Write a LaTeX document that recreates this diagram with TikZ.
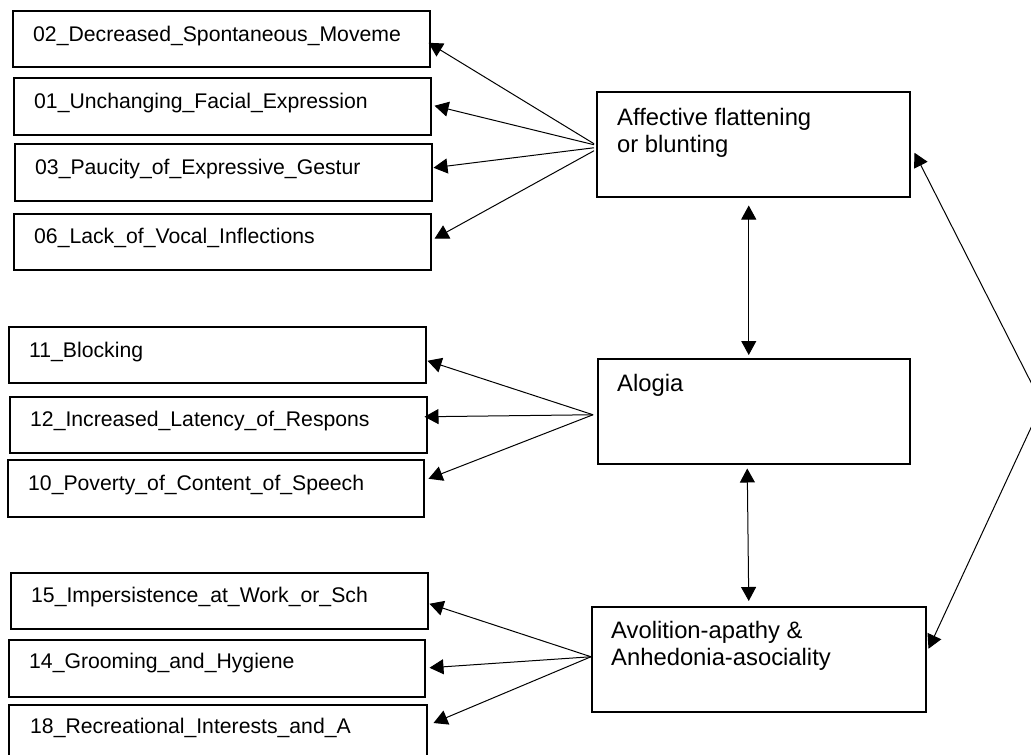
\documentclass[tikz,border=0pt]{standalone}
\usepackage{fontspec}
\setmainfont{Liberation Sans}
\usetikzlibrary{arrows.meta}
\tikzset{
  box/.style={draw=black, line width=1.5pt, inner sep=0pt, anchor=north west},
  lbl/.style={inner sep=0pt, anchor=base west, font=\fontsize{21.2}{25}\selectfont},
  biglbl/.style={inner sep=0pt, anchor=north west, align=left, font=\fontsize{23.8}{27.5}\selectfont},
  conn/.style={line width=1pt, -{Triangle[length=14pt,width=15pt]}},
  dconn/.style={line width=1pt, {Triangle[length=14pt,width=15pt]}-{Triangle[length=14pt,width=15pt]}},
}
\begin{document}
\begin{tikzpicture}[x=1pt,y=-1pt]
\useasboundingbox (0,0) rectangle (1031,755);
\fill[white] (0,0) rectangle (1031,755);
\clip (0,0) rectangle (1031,755);

% left boxes
\node[box, minimum width=417pt, minimum height=56pt] (b02) at (12,10) {};
\node[box, minimum width=417pt, minimum height=57pt] (b01) at (13,77) {};
\node[box, minimum width=417pt, minimum height=57pt] (b03) at (14,143) {};
\node[box, minimum width=417pt, minimum height=56pt] (b06) at (13,213) {};
\node[box, minimum width=417pt, minimum height=56pt] (b11) at (8,326) {};
\node[box, minimum width=417pt, minimum height=56pt] (b12) at (9,396) {};
\node[box, minimum width=416pt, minimum height=57pt] (b10) at (7,459) {};
\node[box, minimum width=417pt, minimum height=56pt] (b15) at (10,572) {};
\node[box, minimum width=416pt, minimum height=57pt] (b14) at (8,639) {};
\node[box, minimum width=418pt, minimum height=66pt] (b18) at (8,704) {};

% left labels
\node[lbl] (t02) at (33,41) {02\_Decreased\_Spontaneous\_Moveme};
\node[lbl] (t01) at (34,108) {01\_Unchanging\_Facial\_Expression};
\node[lbl] (t03) at (35,174) {03\_Paucity\_of\_Expressive\_Gestur};
\node[lbl] (t06) at (34,243) {06\_Lack\_of\_Vocal\_Inflections};
\node[lbl] (t11) at (29,357) {11\_Blocking};
\node[lbl] (t12) at (30,426) {12\_Increased\_Latency\_of\_Respons};
\node[lbl] (t10) at (28,490) {10\_Poverty\_of\_Content\_of\_Speech};
\node[lbl] (t15) at (31,602) {15\_Impersistence\_at\_Work\_or\_Sch};
\node[lbl] (t14) at (29,668) {14\_Grooming\_and\_Hygiene};
\node[lbl] (t18) at (30,733) {18\_Recreational\_Interests\_and\_A};

% right boxes
\node[box, minimum width=313pt, minimum height=105pt] (aff) at (596,91) {};
\node[box, minimum width=312pt, minimum height=105pt] (alo) at (597,358) {};
\node[box, minimum width=334pt, minimum height=105pt] (avo) at (591,606) {};

\node[biglbl] (taff) at (617,108) {Affective flattening\\or blunting};
\node[lbl, font=\fontsize{23.8}{27.5}\selectfont] (talo) at (617,391) {Alogia};
\node[biglbl] (tavo) at (611,621) {Avolition-apathy \&\\Anhedonia-asociality};

% affective -> items
\draw[conn] ([shift={(-2,-0.5)}]aff.west) -- ([shift={(-2,4)}]b02.east);
\draw[conn] ([shift={(-2,0.5)}]aff.west) -- ([shift={(3,-0.5)}]b01.east);
\draw[conn] ([shift={(-2,3.5)}]aff.west) -- ([shift={(1,-4.5)}]b03.east);
\draw[conn] ([shift={(-2,6.5)}]aff.west) -- ([shift={(3,-3)}]b06.east);

% alogia -> items
\draw[conn] ([shift={(-4,3.5)}]alo.west) -- ([shift={(1,6)}]b11.east);
\draw[conn] ([shift={(-4,3.5)}]alo.west) -- ([shift={(-3,-8)}]b12.east);
\draw[conn] ([shift={(-4,3.5)}]alo.west) -- ([shift={(4,-9.5)}]b10.east);

% avolition -> items
\draw[conn] ([shift={(0,-2.5)}]avo.west) -- ([shift={(1,3)}]b15.east);
\draw[conn] ([shift={(0,-2.5)}]avo.west) -- ([shift={(4,-0.5)}]b14.east);
\draw[conn] ([shift={(0,-2.5)}]avo.west) -- ([shift={(6,19)}]b18.north east);

% factor correlations
\draw[dconn] ([shift={(-4.5,8)}]aff.south) -- ([shift={(-5,-3)}]alo.north);
\draw[dconn] ([shift={(-6.5,4)}]alo.south) -- ([shift={(-10,-5)}]avo.north);
\coordinate (apex) at (1042,404);
\draw[dconn] ([shift={(4,8.5)}]aff.east) -- (apex) -- ([shift={(2,-10.5)}]avo.east);
\end{tikzpicture}
\end{document}
